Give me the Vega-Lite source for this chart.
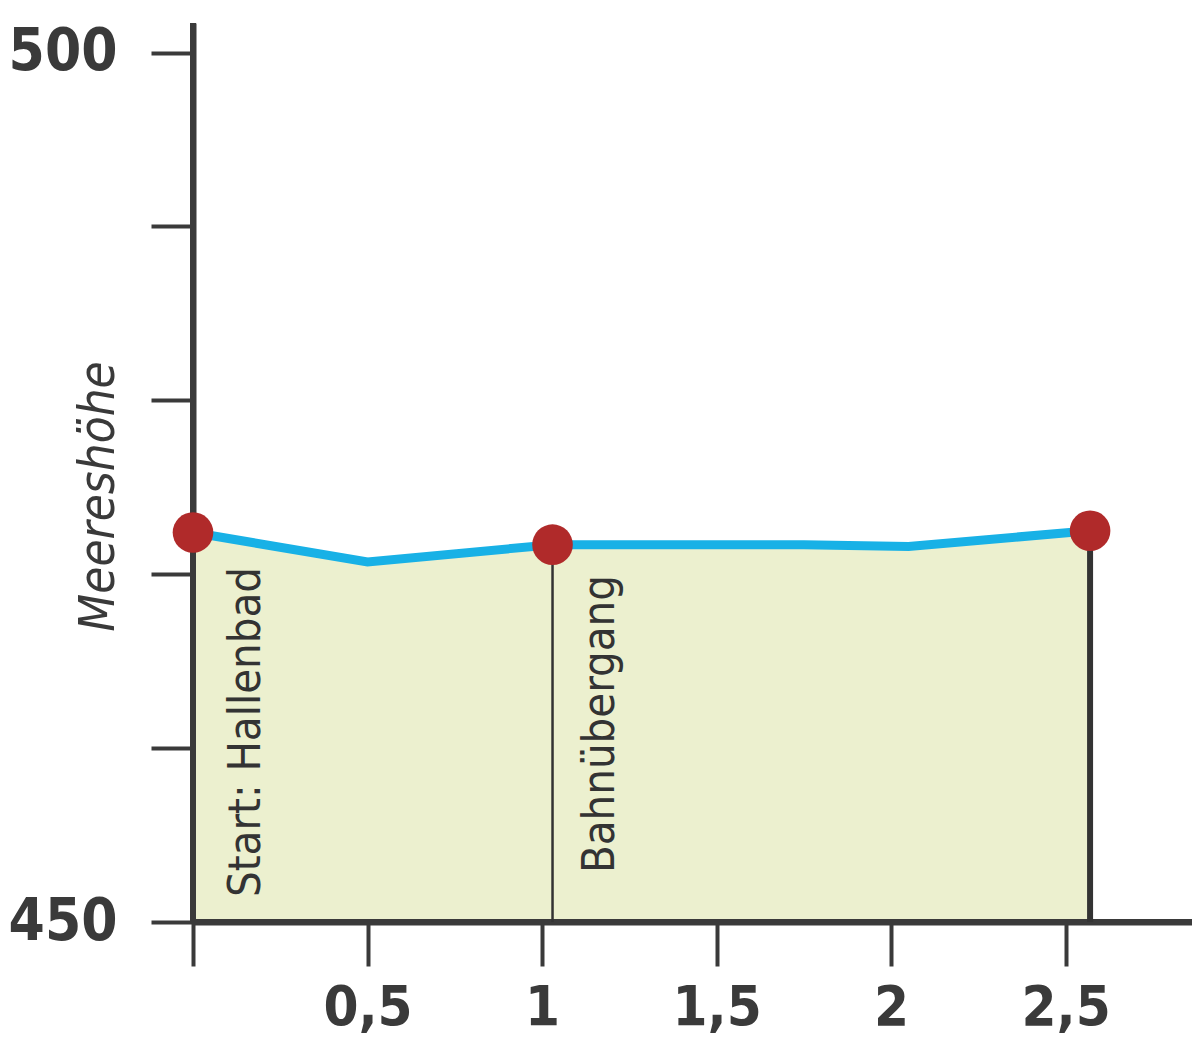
{
  "$schema": "https://vega.github.io/schema/vega-lite/v6.json",
  "width": 999,
  "height": 899,
  "autosize": {"type": "none"},
  "padding": {"left": 193, "top": 23, "right": 0, "bottom": 129},
  "background": "white",
  "config": {"view": {"stroke": null}},
  "datasets": {
    "profile": [
      {"km": 0, "elev": 472.4},
      {"km": 0.5, "elev": 470.7},
      {"km": 1.03, "elev": 471.7},
      {"km": 1.75, "elev": 471.7},
      {"km": 2.05, "elev": 471.6},
      {"km": 2.57, "elev": 472.5}
    ],
    "stops": [
      {"km": 0, "elev": 472.4, "name": "Start: Hallenbad"},
      {"km": 1.03, "elev": 471.7, "name": "Bahnübergang"},
      {"km": 2.57, "elev": 472.5, "name": ""}
    ]
  },
  "layer": [
    {
      "data": {"name": "profile"},
      "mark": {"type": "area", "color": "#ECF0CF"},
      "encoding": {
        "x": {
          "field": "km", "type": "quantitative",
          "scale": {"domain": [0, 2.862], "nice": false, "zero": false},
          "axis": {
            "values": [0, 0.5, 1, 1.5, 2, 2.5],
            "labelExpr": "datum.value == 0 ? '' : replace(format(datum.value, '~g'), '.', ',')",
            "title": null, "grid": false,
            "tickSize": 44, "tickWidth": 4, "tickColor": "#3a3a3a",
            "domainColor": "#3a3a3a", "domainWidth": 6,
            "labelFont": "DejaVu Sans Condensed, sans-serif",
            "labelFontWeight": "bold", "labelFontSize": 56, "labelColor": "#3a3a3a",
            "labelPadding": 14, "labelFlush": false, "labelOverlap": false
          }
        },
        "y": {
          "field": "elev", "type": "quantitative",
          "scale": {"domain": [450, 501.7], "nice": false, "zero": false},
          "axis": {
            "values": [450, 460, 470, 480, 490, 500],
            "labelExpr": "datum.value == 450 || datum.value == 500 ? datum.label : ''",
            "title": "Meereshöhe", "grid": false,
            "tickSize": 42, "tickWidth": 4, "tickColor": "#3a3a3a",
            "domainColor": "#3a3a3a", "domainWidth": 6,
            "labelFont": "DejaVu Sans Condensed, sans-serif",
            "labelFontWeight": "bold", "labelFontSize": 58, "labelColor": "#3a3a3a",
            "labelPadding": 34, "labelFlush": false, "labelOverlap": false,
            "titleFont": "DejaVu Sans Condensed, sans-serif",
            "titleFontStyle": "italic", "titleFontWeight": "normal", "titleFontSize": 49,
            "titleColor": "#3a3a3a", "titleAngle": 270, "titleX": -80, "titleY": 473,
            "titleAlign": "center", "titleBaseline": "alphabetic"
          }
        },
        "y2": {"datum": 450}
      }
    },
    {
      "data": {"values": [{}]},
      "mark": {"type": "rule", "color": "#3a3a3a", "strokeWidth": 6},
      "encoding": {"x": {"datum": 0, "type": "quantitative"}, "y": {"datum": 501.7, "type": "quantitative"}, "y2": {"datum": 450}}
    },
    {
      "data": {"values": [{}]},
      "mark": {"type": "rule", "color": "#3a3a3a", "strokeWidth": 6},
      "encoding": {"y": {"datum": 450, "type": "quantitative"}, "x": {"datum": 0, "type": "quantitative"}, "x2": {"datum": 2.862}}
    },
    {
      "data": {"name": "stops"},
      "transform": [{"filter": "datum.km > 0"}],
      "mark": {"type": "rule", "color": "#333333"},
      "encoding": {
        "x": {"field": "km", "type": "quantitative"},
        "y": {"field": "elev", "type": "quantitative"},
        "y2": {"datum": 450},
        "strokeWidth": {"condition": {"test": "datum.km > 2", "value": 6}, "value": 2.5}
      }
    },
    {
      "data": {"name": "profile"},
      "mark": {"type": "line", "color": "#18B1E6", "strokeWidth": 9},
      "encoding": {
        "x": {"field": "km", "type": "quantitative"},
        "y": {"field": "elev", "type": "quantitative"}
      }
    },
    {
      "data": {"name": "stops"},
      "mark": {"type": "circle", "color": "#B02A2A", "opacity": 1, "size": 1650},
      "encoding": {
        "x": {"field": "km", "type": "quantitative"},
        "y": {"field": "elev", "type": "quantitative"}
      }
    },
    {
      "data": {"name": "stops"},
      "transform": [{"filter": "datum.name == 'Start: Hallenbad'"}],
      "mark": {"type": "text", "angle": 270, "align": "left", "baseline": "alphabetic", "dx": 25, "dy": 67,
               "font": "DejaVu Sans Condensed, sans-serif", "fontSize": 45, "color": "#333333"},
      "encoding": {
        "x": {"field": "km", "type": "quantitative"},
        "y": {"datum": 450, "type": "quantitative"},
        "text": {"field": "name"}
      }
    },
    {
      "data": {"name": "stops"},
      "transform": [{"filter": "datum.name == 'Bahnübergang'"}],
      "mark": {"type": "text", "angle": 270, "align": "left", "baseline": "alphabetic", "dx": 49, "dy": 61,
               "font": "DejaVu Sans Condensed, sans-serif", "fontSize": 45, "color": "#333333"},
      "encoding": {
        "x": {"field": "km", "type": "quantitative"},
        "y": {"datum": 450, "type": "quantitative"},
        "text": {"field": "name"}
      }
    }
  ]
}
